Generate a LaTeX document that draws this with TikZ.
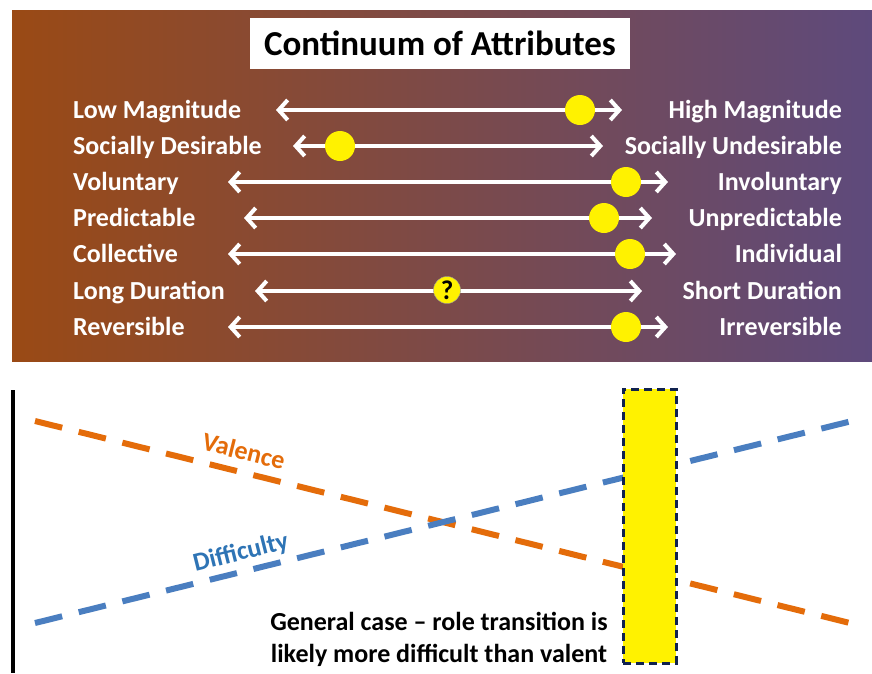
\documentclass[tikz,border=0pt]{standalone}
\usepackage{fontspec}
\setmainfont{Carlito}
\usetikzlibrary{arrows.meta}
\definecolor{panelL}{HTML}{9A4A15}
\definecolor{panelM}{HTML}{7B4A5C}
\definecolor{panelR}{HTML}{5E4A7C}
\definecolor{valorange}{HTML}{E46C0A}
\definecolor{diffblue}{HTML}{4A7EC0}
\definecolor{difftext}{HTML}{2E74B5}
\definecolor{navy}{HTML}{10224F}
\tikzset{
  lbl/.style={font=\bfseries\fontsize{26}{28}\selectfont, text=white, inner sep=0pt,
    text height=18pt, text depth=2pt},
  lblL/.style={lbl, anchor=west},
  lblR/.style={lbl, anchor=east},
  spanarrow/.style={draw=white, line width=4pt,
    {Straight Barb[length=9pt,width=20pt,line width=4pt]}-{Straight Barb[length=9pt,width=20pt,line width=4pt]}},
  marker/.style={circle, fill=yellow, draw=none, minimum size=30pt, inner sep=0pt},
  qmarker/.style={circle, fill=yellow, draw=black!40, line width=0.4pt, minimum size=27pt, inner sep=0pt,
    font=\bfseries\fontsize{27}{27}\selectfont},
  trend/.style={line width=6pt, dash pattern=on 28pt off 17pt},
  curvelbl/.style={font=\bfseries\fontsize{26}{28}\selectfont, inner sep=0pt},
}
\begin{document}
\begin{tikzpicture}[x=1pt, y=-1pt]
\useasboundingbox (0,0) rectangle (872,673);
\fill[white] (0,0) rectangle (872,673);

% gradient panel
\shade[left color=panelL, middle color=panelM, right color=panelR] (12,10) rectangle (872,361);

% title
\node[fill=white, minimum width=380pt, minimum height=51pt, inner sep=0pt,
      font=\bfseries\fontsize{35}{36}\selectfont] (title) at (440,43) {Continuum of Attributes};

% attribute scales: y, left label, right label, left end, right end, marker position
\foreach \i/\yy/\ll/\rr/\xa/\xb/\xm in {
  1/110/Low Magnitude/High Magnitude/276/622/580,
  2/146/Socially Desirable/Socially Undesirable/293/603/340,
  3/182/Voluntary/Involuntary/228/668/626,
  4/218/Predictable/Unpredictable/244/652/604,
  5/254/Collective/Individual/228/676/630,
  7/327/Reversible/Irreversible/228/668/626}{
  \node[lblL] (l\i) at (73,\yy) {\ll};
  \node[lblR] (r\i) at (842,\yy) {\rr};
  \coordinate (s\i) at (\xa,\yy);
  \coordinate (e\i) at (\xb,\yy);
  \draw[spanarrow] (s\i) -- (e\i);
  \node[marker] (m\i) at (\xm,\yy) {};
}
% duration scale with an open question marker
\node[lblL] (l6) at (73,291) {Long Duration};
\node[lblR] (r6) at (842,291) {Short Duration};
\coordinate (s6) at (255,291);
\coordinate (e6) at (642,291);
\draw[spanarrow] (s6) -- (e6);
\node[qmarker] (m6) at (447,290) {?};

% lower chart: axis
\coordinate (axtop) at (13,390);
\coordinate (axbot) at (13,673);
\draw[line width=3.5pt] (axtop) -- (axbot);

% trend lines
\coordinate (v0) at (35,421);
\coordinate (v1) at (858,625);
\coordinate (d0) at (35,623);
\coordinate (d1) at (856,420);
\draw[trend, valorange] (v0) -- (v1);
\draw[trend, diffblue] (d0) -- (d1);

\node[curvelbl, text=valorange, rotate=-14] (val) at (244,451) {Valence};
\node[curvelbl, text=difftext, rotate=14] (dif) at (241,553) {Difficulty};

% highlighted transition band
\node[fill=yellow, draw=navy, line width=3pt, dash pattern=on 8pt off 5pt,
      minimum width=53pt, minimum height=274pt, inner sep=0pt] (band) at (649.5,526) {};

\node[align=center, font=\bfseries\fontsize{26}{32}\selectfont, inner sep=0pt] (note) at (439,639)
  {General case -- role transition is\\likely more difficult than valent};
\end{tikzpicture}
\end{document}
